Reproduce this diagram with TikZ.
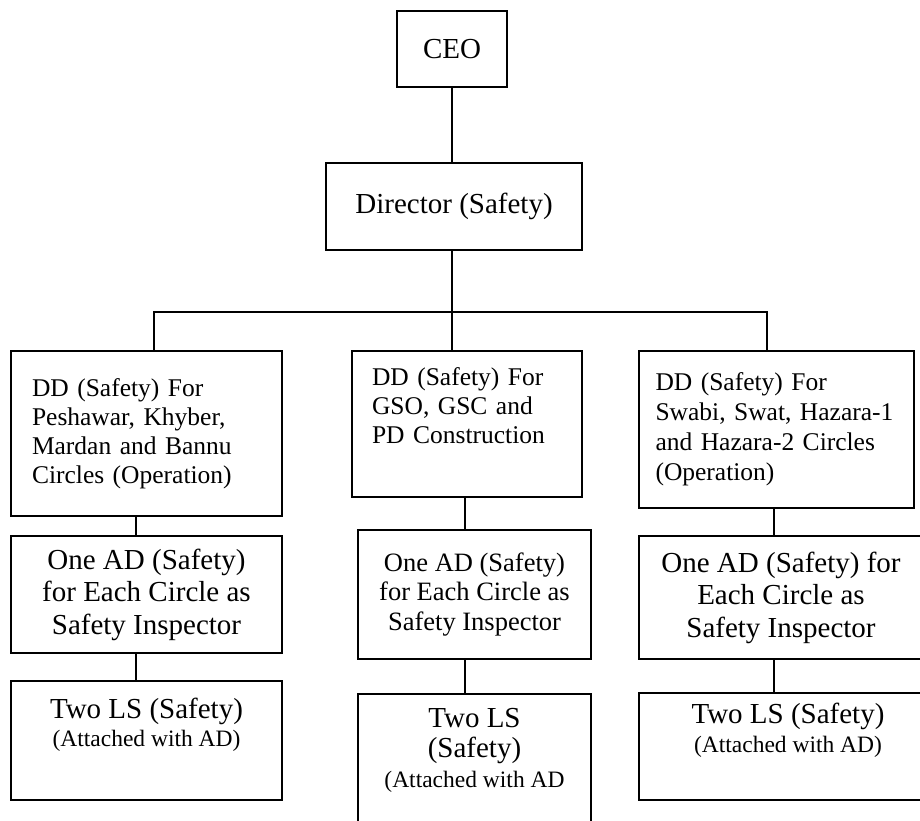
\documentclass[tikz,border=0pt]{standalone}
\usepackage{fontspec}
\setmainfont{Liberation Serif}
\newcommand{\ddfont}{\fontsize{25.5}{29}\selectfont}
\newcommand{\adfont}{\fontsize{29}{32.5}\selectfont}
\newcommand{\adsmall}{\fontsize{26.5}{29.5}\selectfont}
\newcommand{\lsnote}{\fontsize{23.5}{28}\selectfont}
\begin{document}
\begin{tikzpicture}[x=1pt, y=-1pt,
  box/.style={draw, line width=1.7pt, inner sep=0pt},
  link/.style={line width=1.5pt}]
  \clip (0,0) rectangle (920,820);

  % Top levels
  \node[box, minimum width=110pt, minimum height=76pt, font=\adfont] (ceo) at (452,49) {CEO};
  \node[box, minimum width=256pt, minimum height=87pt, font=\adfont] (director) at (454,206.5) {Director (Safety)};

  % Deputy directors
  \node[box, minimum width=271pt, minimum height=165pt, text width=229pt, align=left, font=\ddfont] (ddA) at (146.5,433.5)
    {DD (Safety) For\\ Peshawar, Khyber,\\ Mardan and Bannu\\ Circles (Operation)};
  \node[box, minimum width=230pt, minimum height=146pt, text width=190pt, align=left, font=\ddfont] (ddB) at (467,424)
    {DD (Safety) For\\ GSO, GSC and\\ PD Construction\\ \strut};
  \node[box, minimum width=275pt, minimum height=157pt, text width=242pt, align=left, font=\fontsize{25.5}{30}\selectfont] (ddC) at (776.5,429.5)
    {DD (Safety) For\\ Swabi, Swat, Hazara-1\\ and Hazara-2 Circles\\ (Operation)};

  % Assistant directors
  \node[box, minimum width=271pt, minimum height=117pt, align=center, font=\adfont] (adA) at (146.5,594.5)
    {One AD (Safety)\\ for Each Circle as\\ Safety Inspector};
  \node[box, minimum width=233pt, minimum height=129pt, align=center, font=\adsmall] (adB) at (474.5,594.5)
    {One AD (Safety)\\ for Each Circle as\\ Safety Inspector};
  \node[box, minimum width=284pt, minimum height=123pt, align=center, font=\adfont] (adC) at (781,597.5)
    {One AD (Safety) for\\ Each Circle as\\ Safety Inspector};

  % Line superintendents
  \node[box, minimum width=271pt, minimum height=119pt, align=center, font=\fontsize{29}{28}\selectfont] (lsA) at (146.5,740.5)
    {Two LS (Safety)\\ \lsnote (Attached with AD)\\ \strut};
  \node[box, minimum width=233pt, minimum height=146pt, align=center, font=\fontsize{29}{30}\selectfont] (lsB) at (474.5,767)
    {Two LS\\ (Safety)\\ \lsnote (Attached with AD\\ \strut};
  \node[box, minimum width=298pt, minimum height=107pt, align=center, font=\fontsize{29}{29}\selectfont] (lsC) at (788,746.5)
    {Two LS (Safety)\\ \lsnote (Attached with AD)\\ \strut};

  % Connectors
  \coordinate (barL) at (154,312);
  \coordinate (barR) at (767,312);
  \coordinate (colA) at (136,0);
  \coordinate (colB) at (465,0);
  \coordinate (colC) at (774,0);
  \draw[link] (ceo.south) -- (ceo.south |- director.north);
  \draw[link] (director.south -| ceo) -- (ddB.north -| ceo);
  \draw[link] (ddA.north -| barL) -- (barL) -- (barR) -- (ddC.north -| barR);
  \foreach \c/\up/\down in {A/ddA/adA, A/adA/lsA, B/ddB/adB, B/adB/lsB, C/ddC/adC, C/adC/lsC}
    \draw[link] (\up.south -| col\c) -- (\down.north -| col\c);
\end{tikzpicture}
\end{document}
